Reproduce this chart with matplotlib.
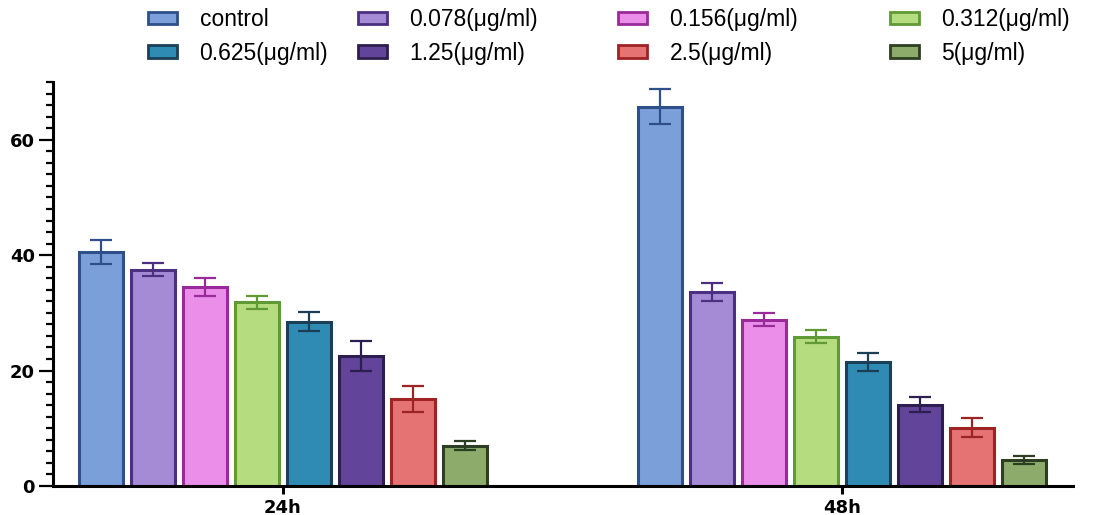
import matplotlib
matplotlib.use("Agg")
import matplotlib.pyplot as plt
from matplotlib.patches import Patch
from matplotlib.ticker import MultipleLocator
import numpy as np

groups = ["24h", "48h"]
series = ["control", "0.078(μg/ml)", "0.156(μg/ml)", "0.312(μg/ml)",
          "0.625(μg/ml)", "1.25(μg/ml)", "2.5(μg/ml)", "5(μg/ml)"]
values_24h = [40.5, 37.5, 34.5, 31.8, 28.5, 22.5, 15.1, 7.0]
errors_24h = [2.1, 1.2, 1.6, 1.1, 1.7, 2.6, 2.2, 0.8]
values_48h = [65.7, 33.6, 28.8, 25.9, 21.5, 14.1, 10.1, 4.5]
errors_48h = [3.0, 1.5, 1.1, 1.1, 1.6, 1.3, 1.6, 0.7]

fills = ["#7b9fd8", "#a58bd6", "#ea8eea", "#b6dc80",
         "#2f8bb3", "#62449a", "#e57373", "#8dac6b"]
edges = ["#2f4f8a", "#4b2f80", "#9a2a9a", "#5f9a35",
         "#1b3f55", "#2c1f4f", "#9e2424", "#2c3f22"]

fig = plt.figure(figsize=(11.18, 5.15), dpi=100)
ax = fig.add_axes([0.0474, 0.0563, 0.9123, 0.7845])

x = np.arange(len(groups))
pitch = 0.093
width = 0.078
vals = np.array([values_24h, values_48h])
errs = np.array([errors_24h, errors_48h])
n = len(series)
for i in range(n):
    pos = x + (i - (n - 1) / 2) * pitch
    ax.bar(pos, vals[:, i], width=width, color=fills[i], edgecolor=edges[i],
           linewidth=2.2, zorder=2)
    ax.errorbar(pos, vals[:, i], yerr=errs[:, i], fmt="none", ecolor=edges[i],
                elinewidth=1.6, capsize=8, capthick=1.6, zorder=3)

ax.set_xlim(-0.411, 1.413)
ax.set_ylim(0, 70)
ax.set_xticks(x)
ax.set_xticklabels(groups, fontfamily="DejaVu Sans", fontweight="bold", fontsize=13)
ax.yaxis.set_major_locator(MultipleLocator(20))
ax.yaxis.set_minor_locator(MultipleLocator(2))
for lab in ax.get_yticklabels():
    lab.set_fontfamily("DejaVu Sans")
    lab.set_fontweight("bold")
    lab.set_fontsize(13)
ax.tick_params(axis="y", which="major", length=10, width=1.6, pad=3)
ax.tick_params(axis="y", which="minor", length=4.7, width=1.6)
ax.tick_params(axis="x", which="major", length=6, width=2.2, pad=3)
for s in ["top", "right"]:
    ax.spines[s].set_visible(False)
for s in ["left", "bottom"]:
    ax.spines[s].set_linewidth(2.2)
    ax.spines[s].set_color("black")

# legend: 4 columns, 2 rows
col_left_px = [148, 358, 618, 890]
for c in range(4):
    idx = [c, c + 4]
    handles = [Patch(facecolor=fills[k], edgecolor=edges[k], linewidth=2)
               for k in idx]
    labels = [series[k] for k in idx]
    fig.legend(handles, labels, loc="upper left",
               bbox_to_anchor=(col_left_px[c] / 1118, 0.984),
               frameon=False, prop={"family": "Liberation Sans", "size": 16.5},
               handlelength=1.25, handleheight=0.45, handletextpad=1.0,
               labelspacing=0.45, borderpad=0, borderaxespad=0)

fig.savefig("out.png", dpi=100)
